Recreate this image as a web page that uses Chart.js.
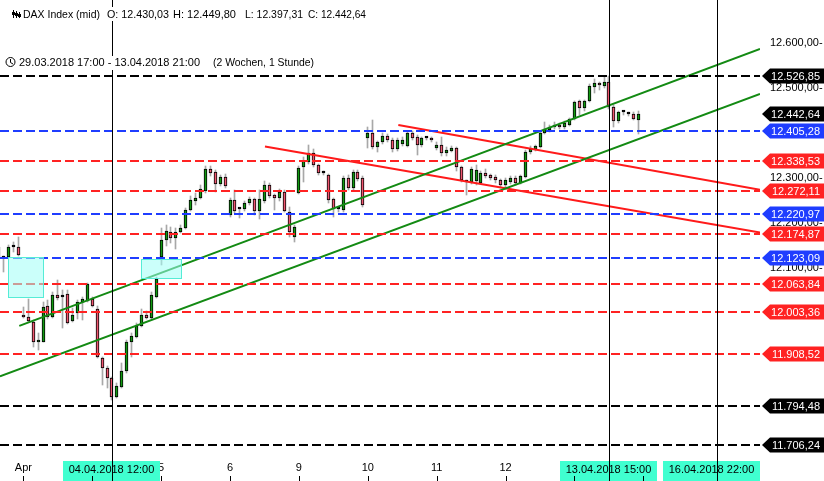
<!DOCTYPE html>
<html><head><meta charset="utf-8">
<script src="https://cdn.jsdelivr.net/npm/chart.js@4.4.0/dist/chart.umd.min.js"></script>
<style>html,body{margin:0;padding:0;background:#fff;overflow:hidden}canvas{display:block}</style>
</head><body>
<canvas id="c" width="824" height="481"></canvas>
<script>
// ---- data ----
const dayLabels = ['Apr','4','5','6','9','10','11','12','13','16'];
const dayStart  = [5,19,33,47,61,75,89,103,117,131];

const open = [12147,12123,12125,12146,12146,
11997,11992,11981,11935,11937,12017,11992,12041,12036,12043,11983,12001,12025,12028,
12032,12010,11901,11879,11855,11815,11837,11872,11935,11948,11972,11997,11990,12036,
12125,12163,12181,12168,12181,12190,12230,12250,12256,12272,12321,12314,12287,12303,
12218,12252,12232,12232,12245,12254,12227,12250,12285,12263,12256,12270,12225,12170,
12267,12325,12336,12356,12329,12312,12307,12254,12232,12230,12301,12278,12314,12301,
12389,12400,12369,12380,12394,12385,12365,12376,12372,12400,12391,12374,12389,12389,
12366,12374,12355,12361,12366,12324,12292,12292,12294,12290,12311,12307,12303,12296,
12285,12292,12301,12289,12303,12359,12365,12369,12400,12407,12413,12419,12413,12418,
12431,12471,12455,12471,12503,12511,12505,12514,12459,12426,12446,12443,12443,12430.03];

const high = [12150,12127,12152,12158,12170,
12014,12032,11984,11957,12025,12030,12048,12074,12052,12052,12012,12030,12036,12068,
12036,12017,11903,11883,11858,11845,11890,11940,11957,11979,12010,12005,12048,12081,
12190,12196,12192,12190,12195,12234,12260,12267,12285,12327,12327,12318,12307,12310,
12256,12274,12234,12250,12258,12256,12274,12294,12290,12265,12276,12274,12236,12196,
12327,12347,12374,12365,12332,12315,12310,12256,12236,12305,12307,12318,12318,12305,
12414,12429,12383,12400,12398,12389,12390,12392,12405,12405,12395,12392,12392,12392,
12381,12392,12370,12372,12370,12327,12296,12325,12330,12315,12320,12310,12306,12299,
12300,12304,12305,12308,12362,12372,12374,12404,12425,12418,12425,12423,12426,12434,
12472,12474,12474,12508,12520,12514,12525,12527,12462,12449,12449,12446,12446,12449.80];

const low = [12120,12092,12122,12136,12128,
11990,11980,11924,11919,11935,11988,11990,12030,11968,11975,11980,11988,11986,12025,
12014,11901,11841,11835,11808,11812,11835,11868,11903,11945,11970,11988,11988,12034,
12108,12150,12157,12143,12178,12187,12227,12240,12254,12268,12305,12270,12283,12279,
12214,12222,12212,12228,12240,12218,12210,12245,12256,12230,12250,12225,12170,12159,
12265,12292,12332,12325,12308,12308,12245,12214,12225,12225,12274,12274,12294,12236,
12367,12365,12358,12376,12380,12358,12360,12372,12369,12385,12352,12370,12385,12380,
12362,12350,12350,12357,12315,12292,12263,12288,12285,12286,12300,12296,12290,12278,
12276,12288,12284,12286,12300,12354,12360,12366,12397,12402,12408,12410,12409,12415,
12428,12440,12450,12468,12490,12496,12500,12454,12414,12423,12440,12438,12428,12397.31];

const close = [12125,12123,12147,12146,12130,
11992,11983,11935,11939,12014,11992,12041,12034,12036,11979,11997,12025,12032,12065,
12017,11903,11879,11855,11813,11839,11872,11935,11950,11972,11997,11990,12041,12077,
12163,12183,12168,12181,12190,12230,12252,12256,12276,12321,12312,12287,12303,12283,
12252,12227,12232,12245,12254,12227,12254,12285,12261,12256,12270,12227,12181,12192,
12323,12338,12356,12329,12312,12312,12252,12232,12232,12301,12278,12314,12298,12241,
12400,12369,12380,12394,12385,12365,12385,12385,12400,12389,12374,12389,12389,12385,
12374,12355,12363,12368,12324,12296,12292,12321,12318,12311,12305,12301,12296,12285,
12296,12300,12289,12305,12359,12365,12371,12401,12409,12414,12419,12413,12422,12431,
12469,12455,12471,12505,12511,12506,12514,12459,12426,12446,12446,12443,12431,12442.64];

const yTickValues = [12600,12500,12300,12200,12100];
const levelValues = [12526.85,12405.28,12338.53,12272.11,12220.97,12174.87,12123.09,12063.84,12003.36,11908.52,11794.48,11706.24];
const levelKinds  = ['black','blue','red','red','blue','red','blue','red','red','red','black','black'];
const lastPrice = 12442.64;
const greenLines = [[[4.17,11972],[154.7,12587]],[[0.24,11860],[154.7,12487]]];
const redLines   = [[[54.1,12370],[154.7,12179]],[[81.2,12418],[154.7,12274]]];
const boxes = [[1.9,9.0,12036,12125],[29.0,37.2,12078,12120]];
const markerIdx = [23,124,146];
const markerLabels = ['04.04.2018 12:00','13.04.2018 15:00','16.04.2018 22:00'];
const headerName = 'DAX Index (mid)';
const headerRange = '29.03.2018 17:00 - 13.04.2018 21:00';
const headerSpan = '(2 Wochen, 1 Stunde)';
const X_MIN = 0.25, X_MAX = 154.7, Y_MIN = 11685.1, Y_MAX = 12695.6;

// ---- styles ----
const KIND = {black:'#000000', blue:'#1f3dff', red:'#ff2222'};
const UP = '#129a12', DOWN = '#ef5770', TREND_G = '#138a13', TREND_R = '#ff1a1a';
const FONT = '"Liberation Sans", Arial, sans-serif';

function fmt(v){
  const s = v.toFixed(2).split('.');
  return s[0].replace(/\B(?=(\d{3})+(?!\d))/g,'.') + ',' + s[1];
}

const idx = open.map((_,i)=>i);
const datasets = [];
levelValues.forEach((v,k)=>{
  datasets.push({type:'line', order:0, level:true, data:[{x:X_MIN,y:v},{x:X_MAX,y:v}],
    borderColor:KIND[levelKinds[k]], borderWidth:2, borderDash:[9,4], pointRadius:0, fill:false});
});
greenLines.forEach(l=>datasets.push({type:'line', order:0, data:l.map(p=>({x:p[0],y:p[1]})),
  borderColor:TREND_G, borderWidth:2, pointRadius:0, fill:false}));
redLines.forEach(l=>datasets.push({type:'line', order:0, data:l.map(p=>({x:p[0],y:p[1]})),
  borderColor:TREND_R, borderWidth:2, pointRadius:0, fill:false}));
datasets.push({type:'bar', order:1, grouped:false, barThickness:3, minBarLength:2, candle:true,
  data: idx.map(i=>({x:i, y:[open[i], close[i]]})),
  backgroundColor: c => { const i=c.dataIndex; if(open[i]===close[i]) return '#000'; return close[i]>open[i]?UP:DOWN; },
  borderColor:'#000', borderWidth:1, borderSkipped:false});
datasets.push({type:'bar', order:2, grouped:false, barThickness:1, candle:true,
  data: idx.map(i=>({x:i, y:[low[i], high[i]]})),
  backgroundColor:'#a8a8a8', borderWidth:0});

// pixel snapping of the library-placed elements (crisp rendering)
const snap = {
  id:'snap',
  afterDatasetsUpdate(chart){
    chart.data.datasets.forEach((ds,i)=>{
      const meta = chart.getDatasetMeta(i);
      if (ds.candle) {
        meta.data.forEach(el=>{
          el.x = Math.floor(el.x) + 0.5;
          const a = Math.round(el.y), b = Math.round(el.base);
          el.y = a; el.base = (a===b) ? b + (el.base>el.y?1:-1) : b;
          if (Math.abs(el.base-el.y) < 2 && ds.barThickness===3) el.base = el.y + 2;
        });
      } else if (ds.level) {
        meta.data.forEach(el=>{ el.y = Math.round(el.y); });
      }
    });
  }
};

const overlay = {
  id:'overlay',
  afterDraw(chart){
    const ctx = chart.ctx, xs = chart.scales.x, ys = chart.scales.y, ca = chart.chartArea;
    ctx.save();
    // boxes
    boxes.forEach(b=>{
      const x0=xs.getPixelForValue(b[0]), x1=xs.getPixelForValue(b[1]);
      const y0=ys.getPixelForValue(b[3]), y1=ys.getPixelForValue(b[2]);
      ctx.fillStyle='rgba(160,255,245,0.55)'; ctx.fillRect(Math.round(x0),Math.round(y0),Math.round(x1-x0),Math.round(y1-y0));
      ctx.strokeStyle='#55ecd6'; ctx.lineWidth=1; ctx.strokeRect(Math.round(x0)+0.5,Math.round(y0)+0.5,Math.round(x1-x0),Math.round(y1-y0));
    });
    // bottom time tags
    ctx.font = '11px '+FONT; ctx.textBaseline='middle'; ctx.textAlign='center';
    markerIdx.forEach((m,k)=>{
      const px = xs.getPixelForValue(m); const w=97;
      let l = Math.round(px - w/2), r = l + w;
      if (r > ca.right) { l -= (r-ca.right); r = ca.right; }
      ctx.fillStyle='#40ffd0'; ctx.fillRect(l, 461, r-l, 20);
      ctx.fillStyle='#000'; ctx.fillText(markerLabels[k], (l+r)/2, 470);
    });
    // vertical lines
    ctx.strokeStyle='#000'; ctx.lineWidth=1;
    markerIdx.forEach(m=>{
      const px = Math.round(xs.getPixelForValue(m))+0.5;
      ctx.beginPath(); ctx.moveTo(px,0); ctx.lineTo(px,chart.height); ctx.stroke();
    });
    // x tick marks below labels
    xs.ticks.forEach(t=>{
      const px = Math.round(xs.getPixelForValue(t.value))+0.5;
      ctx.beginPath(); ctx.moveTo(px,476); ctx.lineTo(px,481); ctx.stroke();
    });
    // header
    const n = open.length-1;
    ctx.textAlign='left'; ctx.textBaseline='alphabetic'; ctx.font='11px '+FONT;
    const parts = [[headerName,23,77],['O: '+fmt(open[n]),107,62],['H: '+fmt(high[n]),173,64],['L: '+fmt(low[n]),245,58],['C: '+fmt(close[n]),308,58]];
    parts.forEach(p=>{ const w=Math.min(ctx.measureText(p[0]).width,p[2]); ctx.fillStyle='#fff'; ctx.fillRect(p[1]-1,7,w+2,14); ctx.fillStyle='#000'; ctx.fillText(p[0],p[1],18,p[2]); });
    // icon
    ctx.strokeStyle='#000'; ctx.fillStyle='#000';
    [13.5,16.5,19.5].forEach((x,k)=>{ ctx.beginPath(); ctx.moveTo(x,10+k); ctx.lineTo(x,18); ctx.stroke(); ctx.fillRect(x-1.5,12+k,3,3); });
    [[headerRange,19,182],[headerSpan,213,101]].forEach(p=>{ const w=Math.min(ctx.measureText(p[0]).width,p[2]); ctx.fillStyle='#fff'; ctx.fillRect(p[1]-1,56,w+2,14); ctx.fillStyle='#000'; ctx.fillText(p[0],p[1],66,p[2]); });
    ctx.beginPath(); ctx.arc(10.5,62,4.5,0,Math.PI*2); ctx.stroke();
    ctx.beginPath(); ctx.moveTo(10.5,59); ctx.lineTo(10.5,62.5); ctx.lineTo(13,64); ctx.stroke();
    // right price tags
    const tag=(v,color)=>{
      const yc = Math.round(ys.getPixelForValue(v)), h=15, x0=ca.right+2, xm=ca.right+10, x1=chart.width;
      ctx.fillStyle=color; ctx.beginPath(); ctx.moveTo(x0,yc); ctx.lineTo(xm,yc-h/2); ctx.lineTo(x1,yc-h/2); ctx.lineTo(x1,yc+h/2); ctx.lineTo(xm,yc+h/2); ctx.closePath(); ctx.fill();
      ctx.fillStyle='#fff'; ctx.font='11px '+FONT; ctx.textAlign='right'; ctx.textBaseline='middle'; ctx.fillText(fmt(v), x1-4, yc+0.5);
    };
    levelValues.forEach((v,k)=>tag(v, KIND[levelKinds[k]]));
    tag(lastPrice, '#000');
    ctx.restore();
  }
};

new Chart(document.getElementById('c'), {
  type:'bar',
  data:{datasets},
  options:{
    responsive:false, animation:false, devicePixelRatio:1,
    layout:{padding:0},
    plugins:{legend:{display:false}, tooltip:{enabled:false}},
    scales:{
      x:{type:'linear', position:'bottom', min:X_MIN, max:X_MAX, offset:false,
        grid:{display:false, drawTicks:false}, border:{display:false},
        afterBuildTicks:s=>{ s.ticks = dayStart.map(v=>({value:v})); },
        afterFit:s=>{ s.height=26; s.paddingLeft=0; s.paddingRight=0; },
        ticks:{autoSkip:false, maxRotation:0, padding:6, color:'#000', font:{size:11, family:FONT},
          callback:(v,i)=>dayLabels[i]}},
      y:{type:'linear', position:'right', min:Y_MIN, max:Y_MAX,
        grid:{display:false, drawTicks:false}, border:{display:false},
        afterBuildTicks:s=>{ s.ticks = yTickValues.map(v=>({value:v})); },
        afterFit:s=>{ s.width=64; s.paddingTop=0; s.paddingBottom=0; },
        ticks:{padding:10, color:'#000', font:{size:11, family:FONT}, callback:v=>fmt(v)+'-'}}
    }
  },
  plugins:[snap, overlay]
});
</script>
</body></html>
